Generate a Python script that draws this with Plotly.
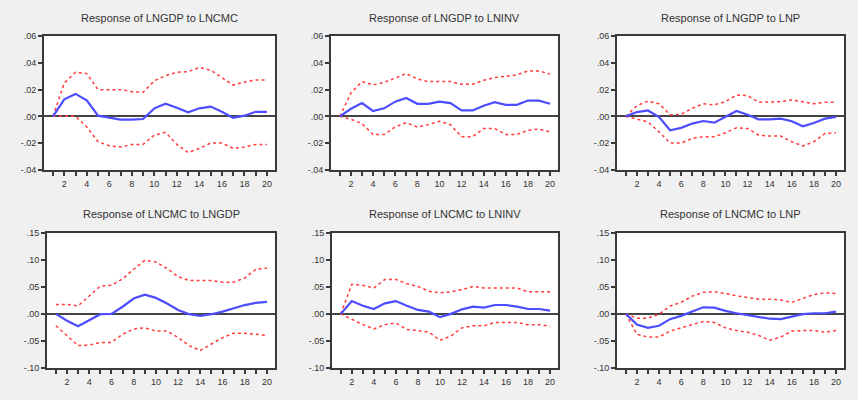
import plotly.graph_objects as go

periods = list(range(1, 21))

titles = [
    "Response of LNGDP to LNCMC",
    "Response of LNGDP to LNINV",
    "Response of LNGDP to LNP",
    "Response of LNCMC to LNGDP",
    "Response of LNCMC to LNINV",
    "Response of LNCMC to LNP",
]

# Panel 1: LNGDP to LNCMC
gdp_cmc_resp = [0.0, 0.0127, 0.0168, 0.012, 0.0005, -0.001, -0.0025, -0.0025, -0.002, 0.006,
                0.0095, 0.0065, 0.003, 0.006, 0.0073, 0.0034, -0.0012, 0.0005, 0.0034, 0.0034]
gdp_cmc_up = [0.0, 0.0249, 0.033, 0.032, 0.020, 0.020, 0.020, 0.0185, 0.018, 0.0266,
              0.0305, 0.033, 0.0334, 0.0366, 0.0346, 0.029, 0.0234, 0.0256, 0.0273, 0.0273]
gdp_cmc_lo = [0.0, 0.0, 0.0, -0.008, -0.019, -0.022, -0.023, -0.021, -0.021, -0.014,
              -0.012, -0.021, -0.027, -0.024, -0.020, -0.020, -0.024, -0.023, -0.021, -0.021]

# Panel 2: LNGDP to LNINV
gdp_inv_resp = [0.0, 0.0057, 0.0099, 0.004, 0.006, 0.011, 0.0138, 0.0094, 0.0094, 0.011,
                0.0099, 0.0044, 0.0044, 0.008, 0.0106, 0.0086, 0.0086, 0.0118, 0.0118, 0.0094]
gdp_inv_up = [0.0, 0.0175, 0.026, 0.0235, 0.0254, 0.029, 0.032, 0.028, 0.026, 0.026,
              0.026, 0.024, 0.024, 0.027, 0.029, 0.030, 0.031, 0.034, 0.034, 0.0316]
gdp_inv_lo = [0.0, -0.0022, -0.0054, -0.0136, -0.0136, -0.008, -0.0047, -0.008, -0.0062, -0.0037,
              -0.0062, -0.0153, -0.0153, -0.0091, -0.0091, -0.0136, -0.0136, -0.0104, -0.0096, -0.0116]

# Panel 3: LNGDP to LNP
gdp_p_resp = [0.0, 0.0032, 0.0044, -0.0005, -0.0104, -0.0086, -0.0054, -0.0035, -0.0047, -0.0005,
              0.004, 0.0012, -0.0022, -0.0022, -0.0017, -0.0037, -0.0074, -0.005, -0.0017, -0.0005]
gdp_p_up = [0.0, 0.008, 0.0114, 0.0094, 0.0012, 0.0015, 0.006, 0.0094, 0.0086, 0.011,
            0.016, 0.0156, 0.0106, 0.0106, 0.011, 0.0123, 0.011, 0.0094, 0.0106, 0.0106]
gdp_p_lo = [0.0, -0.0022, -0.0042, -0.0116, -0.020, -0.020, -0.0165, -0.0153, -0.0153, -0.0123,
            -0.0086, -0.0091, -0.014, -0.0148, -0.0148, -0.019, -0.0222, -0.019, -0.0128, -0.0123]

# Panel 4: LNCMC to LNGDP
cmc_gdp_resp = [0.0, -0.0127, -0.023, -0.012, -0.0006, 0.0, 0.0133, 0.0285, 0.0358, 0.0297,
                0.0194, 0.0073, -0.0006, -0.0036, -0.0006, 0.0042, 0.0103, 0.0164, 0.0206, 0.0224]
cmc_gdp_up = [0.0176, 0.0176, 0.015, 0.0328, 0.0516, 0.053, 0.065, 0.083, 0.0995, 0.0965,
              0.0844, 0.069, 0.062, 0.062, 0.062, 0.059, 0.059, 0.0667, 0.083, 0.085]
cmc_gdp_lo = [-0.022, -0.041, -0.059, -0.058, -0.053, -0.053, -0.038, -0.028, -0.026, -0.032,
              -0.032, -0.044, -0.059, -0.068, -0.056, -0.044, -0.036, -0.036, -0.038, -0.040]

# Panel 5: LNCMC to LNINV
cmc_inv_resp = [0.0, 0.0238, 0.0152, 0.0091, 0.0195, 0.0238, 0.0152, 0.0073, 0.0043, -0.006,
                0.0, 0.0085, 0.0134, 0.0116, 0.0165, 0.0165, 0.0134, 0.0091, 0.0091, 0.0061]
cmc_inv_up = [0.0, 0.055, 0.053, 0.048, 0.064, 0.064, 0.056, 0.051, 0.042, 0.039,
              0.041, 0.045, 0.051, 0.048, 0.048, 0.048, 0.048, 0.041, 0.041, 0.041]
cmc_inv_lo = [0.0, -0.0098, -0.020, -0.028, -0.020, -0.017, -0.029, -0.031, -0.034, -0.049,
              -0.041, -0.026, -0.022, -0.022, -0.016, -0.016, -0.016, -0.020, -0.020, -0.023]

# Panel 6: LNCMC to LNP
cmc_p_resp = [0.0, -0.020, -0.026, -0.022, -0.0098, -0.0037, 0.0043, 0.0122, 0.0116, 0.0055,
              0.0012, -0.0018, -0.0049, -0.009, -0.0098, -0.0049, -0.0006, 0.0012, 0.0012, 0.0043]
cmc_p_up = [0.0, -0.008, -0.008, -0.0006, 0.0146, 0.0213, 0.033, 0.040, 0.041, 0.038,
            0.0335, 0.030, 0.0274, 0.0274, 0.0256, 0.0213, 0.0287, 0.036, 0.039, 0.038]
cmc_p_lo = [0.0, -0.038, -0.043, -0.043, -0.032, -0.026, -0.019, -0.014, -0.016, -0.026,
            -0.031, -0.034, -0.040, -0.049, -0.043, -0.032, -0.031, -0.031, -0.034, -0.031]

top_ticks = [-0.04, -0.02, 0.0, 0.02, 0.04, 0.06]
top_ticktext = ["-.04", "-.02", ".00", ".02", ".04", ".06"]
bot_ticks = [-0.10, -0.05, 0.0, 0.05, 0.10, 0.15]
bot_ticktext = ["-.10", "-.05", ".00", ".05", ".10", ".15"]
x_ticktext = [str(p) if p % 2 == 0 else "" for p in periods]

panels = [
    (gdp_cmc_resp, gdp_cmc_up, gdp_cmc_lo),
    (gdp_inv_resp, gdp_inv_up, gdp_inv_lo),
    (gdp_p_resp, gdp_p_up, gdp_p_lo),
    (cmc_gdp_resp, cmc_gdp_up, cmc_gdp_lo),
    (cmc_inv_resp, cmc_inv_up, cmc_inv_lo),
    (cmc_p_resp, cmc_p_up, cmc_p_lo),
]

W, H = 858, 400
# pixel boxes (left, right, top, bottom)
boxes = [
    (44, 275, 32, 169), (331, 558, 32, 169), (617, 844, 32, 169),
    (47, 275, 234, 372), (332, 558, 234, 372), (617, 844, 234, 372),
]

fig = go.Figure()
FONT = "Liberation Sans, Arial, sans-serif"
RED = "#ff3b3b"
BLUE = "#4d4dff"
FRAME = "#3a3a3a"

annotations = []
for i, ((resp, up, lo), box, title) in enumerate(zip(panels, boxes, titles)):
    n = i + 1
    xa = "x" if n == 1 else f"x{n}"
    ya = "y" if n == 1 else f"y{n}"
    for series, color, dash, width in [(up, RED, "dot", 1.5), (lo, RED, "dot", 1.5), (resp, BLUE, "solid", 2.2)]:
        fig.add_trace(go.Scatter(x=periods, y=series, mode="lines", xaxis=xa, yaxis=ya,
                                 line=dict(color=color, dash=dash, width=width),
                                 showlegend=False, hoverinfo="skip"))
    l, r, t, b = box
    top = i < 3
    xkey = "xaxis" if n == 1 else f"xaxis{n}"
    ykey = "yaxis" if n == 1 else f"yaxis{n}"
    fig.update_layout(**{
        xkey: dict(domain=[l / W, r / W], anchor=ya, range=[0.2, 20.72],
                   tickmode="array", tickvals=periods, ticktext=x_ticktext,
                   ticks="outside", ticklen=4, tickwidth=1.5, tickcolor=FRAME,
                   showline=True, mirror=True, linecolor=FRAME, linewidth=2,
                   showgrid=False, zeroline=False,
                   tickfont=dict(family=FONT, size=9, color="#333")),
        ykey: dict(domain=[1 - b / H, 1 - t / H], anchor=xa,
                   range=[-0.04, 0.06] if top else [-0.10, 0.15],
                   tickmode="array",
                   tickvals=top_ticks if top else bot_ticks,
                   ticktext=top_ticktext if top else bot_ticktext,
                   ticks="outside", ticklen=4, tickwidth=1.5, tickcolor=FRAME,
                   showline=True, mirror=True, linecolor=FRAME, linewidth=2,
                   showgrid=False, zeroline=True, zerolinecolor="#444", zerolinewidth=2,
                   tickfont=dict(family=FONT, size=9, color="#333")),
    })
    annotations.append(dict(text=title, x=(l + r) / 2 / W, y=1 - (13 if top else 214) / H,
                            xref="paper", yref="paper", xanchor="center", yanchor="middle",
                            showarrow=False, font=dict(family=FONT, size=11, color="#333")))

fig.update_layout(width=W, height=H, margin=dict(l=0, r=0, t=0, b=0),
                  paper_bgcolor="#f0f0f0", plot_bgcolor="white",
                  annotations=annotations, showlegend=False)

fig.write_html("out.html",
               config={"displayModeBar": False},
               post_script="document.body.style.margin='0';document.body.style.overflow='hidden';")
